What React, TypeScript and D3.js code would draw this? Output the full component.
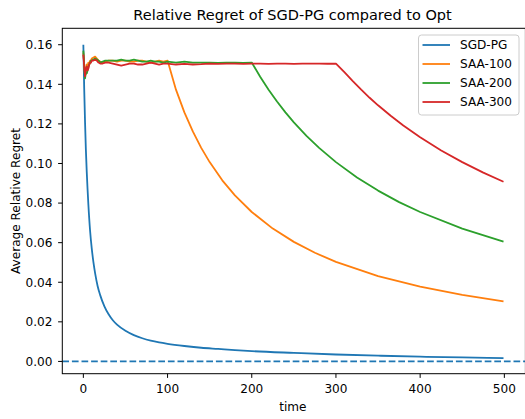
import * as d3 from "d3";

// --- data ---
const sgdTimes = [0, 1, 2, 3, 4, 5, 6, 8, 10, 12, 14, 17, 20, 25, 30, 35, 40, 50, 60, 70, 80, 90, 100, 120, 140, 160, 180, 200, 250, 300, 350, 400, 450, 499];
const sgdValues = [0.160, 0.138, 0.121, 0.107, 0.096, 0.087, 0.079, 0.066, 0.057, 0.050, 0.0445, 0.038, 0.0335, 0.0278, 0.0238, 0.0208, 0.0186, 0.0155, 0.0133, 0.0117, 0.0105, 0.0096, 0.0089, 0.0078, 0.0069, 0.0063, 0.0057, 0.0052, 0.0043, 0.0035, 0.0029, 0.0024, 0.0020, 0.0017];

const earlyTimes = [0, 1, 2, 3, 4, 5, 6, 7, 8, 9, 10, 12, 14, 16, 18, 20, 23, 26, 30, 35, 40, 45, 50, 55, 60, 65, 70, 75, 80, 85, 90, 95, 100];
const saa100Early = [0.156, 0.150, 0.144, 0.147, 0.150, 0.149, 0.151, 0.150, 0.152, 0.152, 0.153, 0.1535, 0.154, 0.153, 0.152, 0.1515, 0.151, 0.1515, 0.152, 0.152, 0.1515, 0.152, 0.152, 0.1515, 0.1515, 0.152, 0.152, 0.1515, 0.151, 0.1515, 0.152, 0.1515, 0.152];
const saa200Early = [0.157, 0.150, 0.143, 0.146, 0.1455, 0.147, 0.149, 0.150, 0.151, 0.152, 0.152, 0.1525, 0.153, 0.1525, 0.152, 0.151, 0.1515, 0.152, 0.152, 0.152, 0.152, 0.1525, 0.152, 0.152, 0.1525, 0.152, 0.1515, 0.1515, 0.152, 0.1515, 0.1515, 0.151, 0.1515];
const saa300Early = [0.155, 0.149, 0.144, 0.148, 0.149, 0.147, 0.148, 0.150, 0.151, 0.151, 0.152, 0.152, 0.1525, 0.152, 0.151, 0.1505, 0.1505, 0.151, 0.151, 0.1505, 0.150, 0.1495, 0.150, 0.1505, 0.1505, 0.150, 0.150, 0.1505, 0.151, 0.1505, 0.150, 0.1505, 0.1505];

const plateauTimes = [110, 120, 130, 140, 150, 160, 170, 180, 190, 200, 210, 220, 230, 240, 250, 260, 270, 280, 290, 300];
const saa200Plateau = [0.151, 0.1515, 0.151, 0.151, 0.151, 0.1508, 0.151, 0.151, 0.1508, 0.151];
const saa300Plateau = [0.150, 0.1503, 0.150, 0.1502, 0.1505, 0.1503, 0.1505, 0.1505, 0.1503, 0.1505, 0.1505, 0.1503, 0.1505, 0.1505, 0.1503, 0.1505, 0.1505, 0.1505, 0.1504, 0.1505];

const saa100DecayTimes = [110, 120, 130, 140, 150, 165, 180, 200, 225, 250, 275, 300, 350, 400, 450, 499];
const saa100Decay = [0.1373, 0.1258, 0.1162, 0.1079, 0.1007, 0.0915, 0.0839, 0.0755, 0.0671, 0.0604, 0.0549, 0.0503, 0.0431, 0.0378, 0.0336, 0.0303];
const saa200DecayTimes = [210, 220, 230, 240, 250, 265, 280, 300, 325, 350, 375, 400, 450, 499];
const saa200Decay = [0.1438, 0.1373, 0.1313, 0.1258, 0.1208, 0.1140, 0.1079, 0.1007, 0.0929, 0.0863, 0.0805, 0.0755, 0.0671, 0.0605];
const saa300DecayTimes = [310, 320, 330, 340, 350, 365, 380, 400, 425, 450, 475, 499];
const saa300Decay = [0.1461, 0.1416, 0.1373, 0.1332, 0.1294, 0.1241, 0.1192, 0.1133, 0.1066, 0.1007, 0.0954, 0.0908];

const seriesNames = ["SGD-PG", "SAA-100", "SAA-200", "SAA-300"];
const seriesColors = ["#1f77b4", "#ff7f0e", "#2ca02c", "#d62728"];
const xTicks = [0, 100, 200, 300, 400, 500];
const yTicks = [0, 0.02, 0.04, 0.06, 0.08, 0.1, 0.12, 0.14, 0.16];

type Pt = [number, number];
const zip = (ts: number[], vs: number[]): Pt[] => vs.map((v, i) => [ts[i], v]);

export default function App() {
  const width = 525;
  const height = 419;
  const left = 62.3;
  const right = 525.4;
  const top = 28.3;
  const bottom = 373.7;

  const x = d3.scaleLinear().domain([-25, 525]).range([left, right]);
  const y = d3.scaleLinear().domain([-0.0062, 0.1683]).range([bottom, top]);

  const series: Pt[][] = [
    zip(sgdTimes, sgdValues),
    [...zip(earlyTimes, saa100Early), ...zip(saa100DecayTimes, saa100Decay)],
    [...zip(earlyTimes, saa200Early), ...zip(plateauTimes.slice(0, saa200Plateau.length), saa200Plateau), ...zip(saa200DecayTimes, saa200Decay)],
    [...zip(earlyTimes, saa300Early), ...zip(plateauTimes, saa300Plateau), ...zip(saa300DecayTimes, saa300Decay)],
  ];

  const line = d3.line<Pt>().x(d => x(d[0])).y(d => y(d[1]));
  const smooth = d3.line<Pt>().x(d => x(d[0])).y(d => y(d[1])).curve(d3.curveMonotoneX);

  const font = "'DejaVu Sans', sans-serif";
  const legendX = 418.5;
  const legendY = 35;

  return (
    <svg width={width} height={height} style={{ position: "absolute", left: 0, top: 0, background: "#fff" }} fontFamily={font}>
      <defs>
        <clipPath id="plot">
          <rect x={left} y={top} width={right - left} height={bottom - top} />
        </clipPath>
      </defs>
      <rect width={width} height={height} fill="#fff" />

      <g clipPath="url(#plot)">
        {series.map((s, i) => (
          <path key={i} d={(i === 0 ? smooth(s) : line(s)) || ""} fill="none" stroke={seriesColors[i]} strokeWidth={1.8} strokeLinejoin="round" />
        ))}
        <line x1={left} x2={right} y1={y(0)} y2={y(0)} stroke="#1f77b4" strokeWidth={1.8} strokeDasharray="6.7,2.9" />
      </g>

      {/* spines */}
      <rect x={left} y={top} width={right - left} height={bottom - top} fill="none" stroke="#000" strokeWidth={1} />

      {xTicks.map(t => (
        <g key={t}>
          <line x1={x(t)} x2={x(t)} y1={bottom} y2={bottom + 4.2} stroke="#000" strokeWidth={1} />
          <text x={x(t)} y={393.3} textAnchor="middle" fontSize={12.1} fill="#000">{t}</text>
        </g>
      ))}
      {yTicks.map(t => (
        <g key={t}>
          <line x1={left - 4.2} x2={left} y1={y(t)} y2={y(t)} stroke="#000" strokeWidth={1} />
          <text x={52.5} y={y(t)} dy="0.36em" textAnchor="end" fontSize={12.1} fill="#000">{t.toFixed(2)}</text>
        </g>
      ))}

      <text x={(left + right) / 2 - 1} y={410.5} textAnchor="middle" fontSize={12.1} fill="#000">time</text>
      <text transform={`translate(20,${(top + bottom) / 2}) rotate(-90)`} textAnchor="middle" fontSize={12.1} fill="#000">Average Relative Regret</text>
      <text x={292.5} y={19.5} textAnchor="middle" fontSize={14.5} fill="#000">Relative Regret of SGD-PG compared to Opt</text>

      {/* legend */}
      <rect x={legendX} y={legendY} width={100.5} height={80} rx={3} fill="#fff" fillOpacity={0.8} stroke="#cccccc" strokeWidth={1} />
      {seriesNames.map((name, i) => {
        const cy = 45 + i * 19;
        return (
          <g key={name}>
            <line x1={422.5} x2={450} y1={cy} y2={cy} stroke={seriesColors[i]} strokeWidth={1.8} />
            <text x={460} y={cy} dy="0.36em" fontSize={12.1} fill="#000">{name}</text>
          </g>
        );
      })}
    </svg>
  );
}
